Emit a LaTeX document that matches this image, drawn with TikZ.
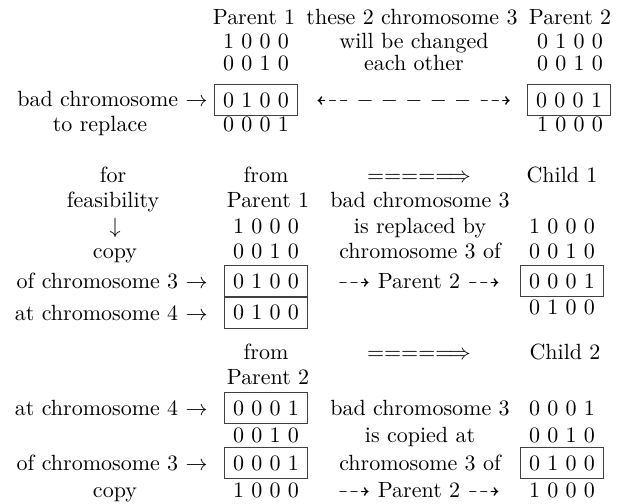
\documentclass[tikz,border=0pt]{standalone}
\usepackage{amssymb}
\begin{document}
\begin{tikzpicture}[x=0.4545pt,y=-0.4545pt,
  lbl/.style={inner sep=0pt, anchor=base},
  lblr/.style={inner sep=0pt, anchor=base east},
  bits/.style={draw=black!75, line width=0.5pt, inner xsep=4pt, inner ysep=0pt, minimum height=14pt, anchor=center}]
\useasboundingbox (0,0) rectangle (618,504);
% ---------- top section ----------
\node[lbl] (tP1) at (254,25) {Parent 1};
\node[lbl] (tC)  at (412,25) {these 2 chromosome 3};
\node[lbl] (tP2) at (570,25) {Parent 2};
\node[lbl] (tB1a) at (256,49) {1 0 0 0};
\node[lbl] (tCa)  at (414,49) {will be changed};
\node[lbl] (tB2a) at (570,49) {0 1 0 0};
\node[lbl] (tB1b) at (256,71) {0 0 1 0};
\node[lbl] (tCb)  at (414,71) {each other};
\node[lbl] (tB2b) at (570,71) {0 0 1 0};
\node[lblr] (tbad) at (208,107) {bad chromosome $\rightarrow$};
\node[bits] (tbox1) at (256,100) {0 1 0 0};
\node[lbl] (tdash) at (414,107) {$\dashleftarrow$ $-$ $-$ $-$ $-$ $-$ $\dashrightarrow$};
\node[bits] (tbox2) at (569,100) {0 0 0 1};
\node[lbl] (trep) at (100,132) {to replace};
\node[lbl] (tB1d) at (256,132) {0 0 0 1};
\node[lbl] (tB2d) at (570,132) {1 0 0 0};
% ---------- middle section ----------
\node[lbl] (mfor)  at (113,182) {for};
\node[lbl] (mfrom) at (266,182) {from};
\node[lbl] (marr)  at (419,182) {$====\Longrightarrow$};
\node[lbl] (mch)   at (562,182) {Child 1};
\node[lbl] (mfeas) at (113,207) {feasibility};
\node[lbl] (mP1)   at (268,207) {Parent 1};
\node[lbl] (mbad)  at (420,207) {bad chromosome 3};
\node[lbl] (mdown) at (115,233) {$\downarrow$};
\node[lbl] (mB1a)  at (266,233) {1 0 0 0};
\node[lbl] (mrep)  at (420,233) {is replaced by};
\node[lbl] (mD1a)  at (562,233) {1 0 0 0};
\node[lbl] (mcopy) at (115,258) {copy};
\node[lbl] (mB1b)  at (266,258) {0 0 1 0};
\node[lbl] (mchr)  at (420,258) {chromosome 3 of};
\node[lbl] (mD1b)  at (562,258) {0 0 1 0};
\node[lblr] (mof)  at (208,288) {of chromosome 3 $\rightarrow$};
\node[bits] (mbox1) at (266,281) {0 1 0 0};
\node[lbl] (mpar)  at (419,288) {$\dashrightarrow$ Parent 2 $\dashrightarrow$};
\node[bits] (mbox3) at (562,281) {0 0 0 1};
\node[bits, anchor=north] (mbox2) at (mbox1.south) {0 1 0 0};
\node[lblr] (mat)  at (208,320) {at chromosome 4 $\rightarrow$};
\node[lbl] (mD1d)  at (562,314) {0 1 0 0};
% ---------- bottom section ----------
\node[lbl] (bfrom) at (266,359) {from};
\node[lbl] (barr)  at (419,359) {$====\Longrightarrow$};
\node[lbl] (bch)   at (565,359) {Child 2};
\node[lbl] (bP2)   at (268,384) {Parent 2};
\node[lblr] (bat)  at (208,415) {at chromosome 4 $\rightarrow$};
\node[bits] (bbox1) at (266,408) {0 0 0 1};
\node[lbl] (bbad)  at (420,415) {bad chromosome 3};
\node[lbl] (bD2a)  at (562,415) {0 0 0 1};
\node[lbl] (bB2b)  at (266,442) {0 0 1 0};
\node[lbl] (bcop)  at (420,442) {is copied at};
\node[lbl] (bD2b)  at (562,442) {0 0 1 0};
\node[lblr] (bof)  at (208,470) {of chromosome 3 $\rightarrow$};
\node[bits] (bbox2) at (266,463) {0 0 0 1};
\node[lbl] (bchr)  at (420,470) {chromosome 3 of};
\node[bits] (bbox3) at (562,463) {0 1 0 0};
\node[lbl] (bcopy) at (115,497) {copy};
\node[lbl] (bB2d)  at (266,497) {1 0 0 0};
\node[lbl] (bpar)  at (419,497) {$\dashrightarrow$ Parent 2 $\dashrightarrow$};
\node[lbl] (bD2d)  at (562,497) {1 0 0 0};
\end{tikzpicture}
\end{document}
